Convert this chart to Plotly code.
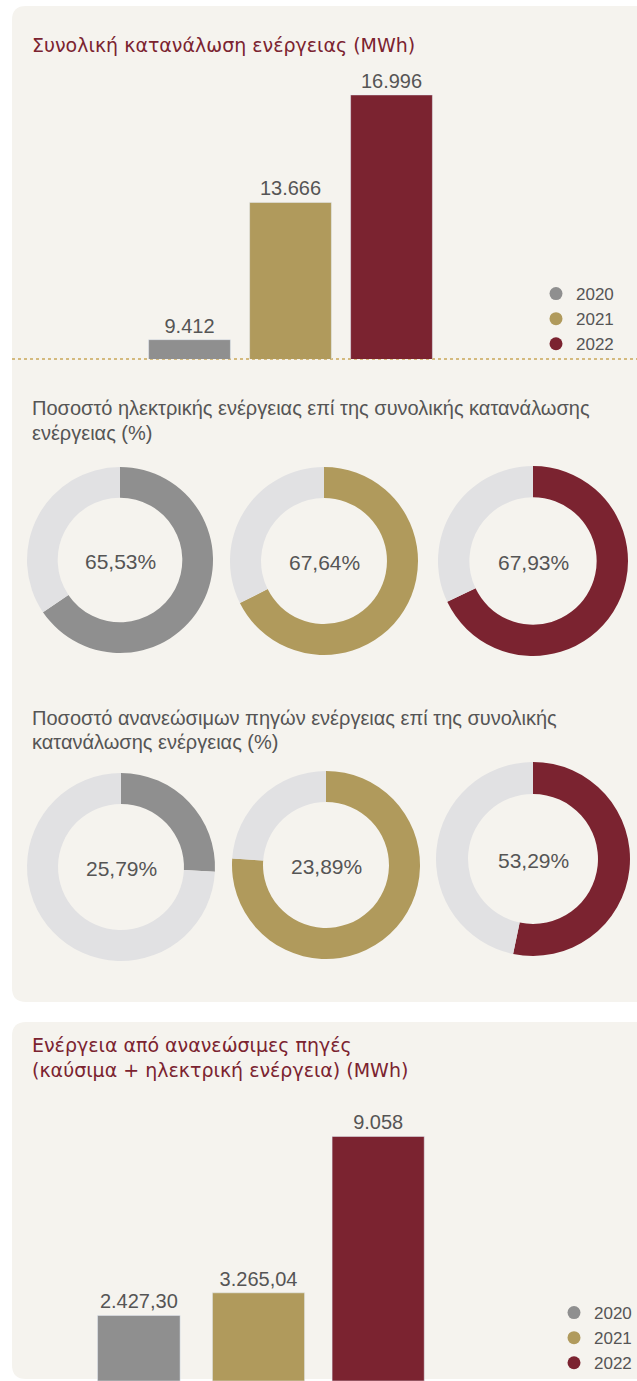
import plotly.graph_objects as go

W, H = 637, 1381

years = ["2020", "2021", "2022"]
total_mwh = [9412, 13666, 16996]
total_labels = ["9.412", "13.666", "16.996"]
elec_share = [65.53, 67.64, 67.93]
elec_labels = ["65,53%", "67,64%", "67,93%"]
renew_share = [25.79, 76.11, 53.29]   # ring fill as drawn in the picture
renew_labels = ["25,79%", "23,89%", "53,29%"]
renew_mwh = [2427.30, 3265.04, 9058]
renew_mwh_labels = ["2.427,30", "3.265,04", "9.058"]

colors = ["#8f8f8f", "#b09a5c", "#7b2330"]
ring_bg = "#e1e1e3"
panel = "#f5f3ee"
txt = "#555555"
red = "#7b2330"
numfont = "Liberation Sans"


def fx(x):
    return x / W


def fy(y):
    return 1 - y / H


def rounded(x0, y0, x1, y1, r):
    s = "M %f,%f L %f,%f L %f,%f L %f,%f" % (fx(x0 + r), fy(y0), fx(x1), fy(y0),
                                          fx(x1), fy(y1), fx(x0 + r), fy(y1))
    s += " Q %f,%f %f,%f" % (fx(x0), fy(y1), fx(x0), fy(y1 - r))
    s += " L %f,%f" % (fx(x0), fy(y0 + r))
    s += " Q %f,%f %f,%f Z" % (fx(x0), fy(y0), fx(x0 + r), fy(y0))
    return s


fig = go.Figure()

# bar chart 1
for i, yr in enumerate(years):
    fig.add_trace(go.Bar(x=[yr], y=[total_mwh[i]], text=[total_labels[i]], textposition="outside",
                         marker_color=colors[i], width=0.81, showlegend=False, cliponaxis=False,
                         textfont=dict(size=20, color=txt, family=numfont),
                         xaxis="x", yaxis="y", hoverinfo="skip"))
    fig.add_trace(go.Scatter(x=[None], y=[None], mode="markers", name=yr,
                             marker=dict(color=colors[i], size=13), xaxis="x", yaxis="y",
                             legend="legend"))

# bar chart 2
w2 = [0.69, 0.77, 0.77]
for i, yr in enumerate(years):
    fig.add_trace(go.Bar(x=[yr], y=[renew_mwh[i]], text=[renew_mwh_labels[i]], textposition="outside",
                         marker_color=colors[i], width=w2[i], showlegend=False, cliponaxis=False,
                         textfont=dict(size=20, color=txt, family=numfont),
                         xaxis="x2", yaxis="y2", hoverinfo="skip"))
    fig.add_trace(go.Scatter(x=[None], y=[None], mode="markers", name=yr,
                             marker=dict(color=colors[i], size=13), xaxis="x2", yaxis="y2",
                             legend="legend2"))

# donuts
row1 = [(120, 560, 93), (324, 561, 94), (533, 561, 95)]
row2 = [(121, 867, 94), (326, 865, 94), (533, 859, 97)]
annots = []
for shares, labels, pos in [(elec_share, elec_labels, row1), (renew_share, renew_labels, row2)]:
    for i in range(3):
        cx, cy, r = pos[i]
        fig.add_trace(go.Pie(values=[shares[i], 100 - shares[i]], labels=["a", "b"],
                             marker=dict(colors=[colors[i], ring_bg], line=dict(width=0)),
                             hole=0.67, sort=False, direction="clockwise", rotation=0,
                             textinfo="none", hoverinfo="skip", showlegend=False,
                             domain=dict(x=[fx(cx - r), fx(cx + r)], y=[fy(cy + r), fy(cy - r)])))
        annots.append(dict(x=fx(cx), y=fy(cy + 1), xref="paper", yref="paper", text=labels[i],
                           xanchor="center", yanchor="middle",
                           showarrow=False, font=dict(size=21, color=txt, family=numfont)))

titles = [
    (30, 45, "Συνολική κατανάλωση ενέργειας (MWh)", red, 19, "DejaVu Sans"),
    (30, 408, "Ποσοστό ηλεκτρικής ενέργειας επί της συνολικής κατανάλωσης", txt, 20, "Liberation Sans"),
    (30, 433, "ενέργειας (%)", txt, 20, "Liberation Sans"),
    (30, 718, "Ποσοστό ανανεώσιμων πηγών ενέργειας επί της συνολικής", txt, 20, "Liberation Sans"),
    (30, 742, "κατανάλωσης ενέργειας (%)", txt, 20, "Liberation Sans"),
    (30, 1045, "Ενέργεια από ανανεώσιμες πηγές", red, 19, "DejaVu Sans"),
    (30, 1070, "(καύσιμα + ηλεκτρική ενέργεια) (MWh)", red, 19, "DejaVu Sans"),
]
for x, y, t, c, s, f in titles:
    annots.append(dict(x=fx(x), y=fy(y), xref="paper", yref="paper", text=t, showarrow=False,
                       xanchor="left", yanchor="middle", font=dict(size=s, color=c, family=f)))

shapes = [
    dict(type="path", path=rounded(12, 6, 700, 1002, 14), fillcolor=panel, line_width=0, layer="below",
         xref="paper", yref="paper"),
    dict(type="path", path=rounded(12, 1022, 700, 1379, 14), fillcolor=panel, line_width=0, layer="below",
         xref="paper", yref="paper"),
    dict(type="line", x0=fx(12), x1=1, y0=fy(359), y1=fy(359), xref="paper", yref="paper",
         line=dict(color="#c9a85a", width=1.5, dash="dot"), layer="below"),
]

k1 = 0.03227
k2 = 0.027
fig.update_layout(
    width=W, height=H, margin=dict(l=0, r=0, t=0, b=0),
    paper_bgcolor="white", plot_bgcolor="rgba(0,0,0,0)",
    barmode="overlay",
    xaxis=dict(domain=[fx(139), fx(442)], range=[-0.5, 2.5], type="category", visible=False),
    yaxis=dict(domain=[fy(359), fy(60)], range=[8813, 8813 + 299 / k1], visible=False),
    xaxis2=dict(domain=[fx(79), fx(438)], range=[-0.5, 2.5], type="category", visible=False),
    yaxis2=dict(domain=[0, fy(1100)], range=[0, 281 / k2], visible=False),
    legend=dict(x=fx(536), y=fy(276), xanchor="left", yanchor="top", bgcolor="rgba(0,0,0,0)",
                font=dict(size=17, color=txt, family=numfont), itemwidth=30, tracegroupgap=0),
    legend2=dict(x=1, y=0, xanchor="right", yanchor="bottom", bgcolor="rgba(0,0,0,0)",
                 font=dict(size=17, color=txt, family=numfont), itemwidth=30, tracegroupgap=0),
    annotations=annots, shapes=shapes, font=dict(family=numfont),
)

fig.write_html("out.html", config={"displayModeBar": False},
               post_script="document.body.style.margin='0';")
